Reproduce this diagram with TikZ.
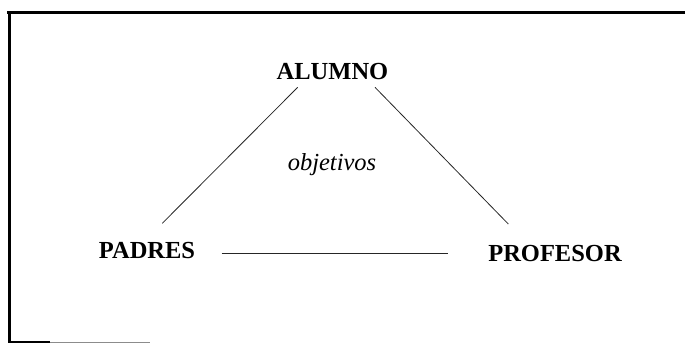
\documentclass[tikz,border=0pt]{standalone}
\usepackage{fontspec}
\setmainfont{Liberation Serif}
\usetikzlibrary{calc}
\tikzset{
  lbl/.style={inner sep=0pt, anchor=base, font=\fontsize{24.5}{27}\selectfont\bfseries},
  obj/.style={inner sep=0pt, anchor=base, font=\fontsize{24.5}{27}\selectfont\itshape},
  link/.style={line width=0.8pt, black!85},
  frame/.style={line width=3pt, black}
}
\begin{document}
\begin{tikzpicture}[x=1pt,y=-1pt]
\useasboundingbox (0,0) rectangle (685,343);
% frame
\draw[frame] (7,12) -- (685,12);
\draw[frame] (9,11) -- (9,342);
\draw[line width=2pt] (8,342) -- (50,342);
\draw[line width=1pt, black!45] (50,342) -- (150,342);
% nodes
\node[lbl] (alumno) at (332.5,79) {ALUMNO};
\node[lbl] (padres) at (147,258) {PADRES};
\node[lbl] (profesor) at (555,261) {PROFESOR};
\node[obj] (objetivos) at (332,170) {objetivos};
% connectors
\draw[link] ($(alumno.base)+(-34.8,8.3)$) -- ($(padres.base)+(15.3,-34.7)$);
\draw[link] ($(alumno.base)+(42.5,8.3)$) -- ($(profesor.base)+(-46.7,-37)$);
\draw[link] ($(padres.base)+(74.7,-4.7)$) -- ($(profesor.base)+(-106.7,-7.7)$);
\end{tikzpicture}
\end{document}
